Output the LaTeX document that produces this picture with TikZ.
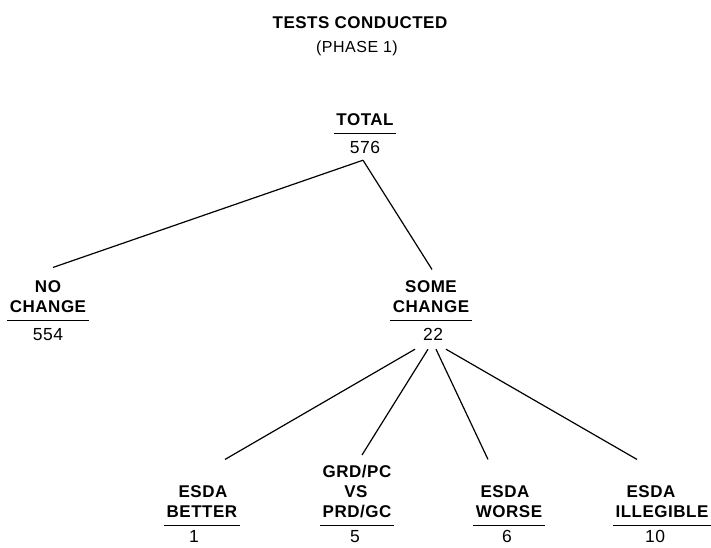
\documentclass[tikz,border=0pt]{standalone}
\usepackage{fontspec}
\setmainfont{Liberation Sans}[LetterSpace=3]
\usetikzlibrary{calc}
\tikzset{
  x=1pt, y=-1pt,
  lab/.style={font=\fontsize{17}{20}\selectfont\bfseries, anchor=base, inner sep=0pt, text depth=0pt},
  ulab/.style={lab, inner xsep=2.5pt, inner ysep=8pt},
  num/.style={font=\fontsize{17.5}{20}\selectfont, anchor=base, inner sep=0pt, text depth=0pt},
  sub/.style={font=\fontsize{16}{18}\selectfont, anchor=base, inner sep=0pt},
  conn/.style={line width=1.2pt, black},
  rule/.style={line width=1.4pt, black}
}
\begin{document}
\begin{tikzpicture}
\fill[white] (0,0) rectangle (711,547);
\useasboundingbox (0,0) rectangle (711,547);

% title
\node[lab] (title) at (360,28) {TESTS CONDUCTED};
\node[sub] (phase) at (357,52.5) {(PHASE 1)};

% total
\node[ulab] (total) at (365,125) {TOTAL};
\draw[rule] (total.south west) -- (total.south east);
\node[num] (n576) at (365,153) {576};

% no change
\node[lab] (nc1) at (48,292) {NO};
\node[ulab] (nc2) at (48,312) {CHANGE};
\draw[rule] (nc2.south west) -- (nc2.south east);
\node[num] (n554) at (48,340) {554};

% some change
\node[lab] (sc1) at (431,292) {SOME};
\node[ulab] (sc2) at (431,312) {CHANGE};
\draw[rule] (sc2.south west) -- (sc2.south east);
\node[num] (n22) at (433,340) {22};

% esda better
\node[lab] (eb1) at (203,497) {ESDA};
\node[ulab] (eb2) at (202,517) {BETTER};
\draw[rule] (eb2.south west) -- (eb2.south east);
\node[num] (n1) at (194,542) {1};

% grd/pc vs prd/gc
\node[lab] (g1) at (357,477) {GRD/PC};
\node[lab] (g2) at (356,497.5) {VS};
\node[ulab] (g3) at (357,517) {PRD/GC};
\draw[rule] (g3.south west) -- (g3.south east);
\node[num] (n5) at (355,542.5) {5};

% esda worse
\node[lab] (ew1) at (505,497) {ESDA};
\node[ulab] (ew2) at (509,517) {WORSE};
\draw[rule] (ew2.south west) -- (ew2.south east);
\node[num] (n6) at (507,542) {6};

% esda illegible
\node[lab] (ei1) at (651,497) {ESDA};
\node[ulab] (ei2) at (662,517) {ILLEGIBLE};
\draw[rule] (ei2.south west) -- (ei2.south east);
\node[num] (n10) at (655,542) {10};

% connectors
\draw[conn] ($(n576.south)+(-2,7)$) -- ($(nc1.north)+(5,-12.5)$);
\draw[conn] ($(n576.south)+(-2,7)$) -- ($(sc1.north)+(1,-10.5)$);
\draw[conn] ($(n22.south)+(-18,9)$) -- ($(eb1.north)+(22,-25.5)$);
\draw[conn] ($(n22.south)+(-5,9)$) -- ($(g1.north)+(5,-9.5)$);
\draw[conn] ($(n22.south)+(3,9)$) -- ($(ew1.north)+(-17,-25.5)$);
\draw[conn] ($(n22.south)+(13,9)$) -- ($(ei1.north)+(-14,-25.5)$);
\end{tikzpicture}
\end{document}
